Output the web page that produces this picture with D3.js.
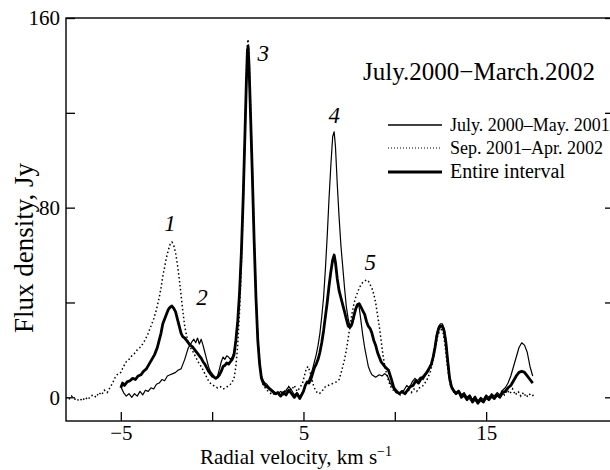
<!DOCTYPE html>
<html>
<head>
<meta charset="utf-8">
<script src="https://cdn.jsdelivr.net/npm/d3@7"></script>
<style>
  html, body { margin: 0; padding: 0; background: #fff; }
  svg { display: block; }
</style>
</head>
<body>
<svg id="chart" width="610" height="470"></svg>
<script>
// ---------------- DATA ----------------
const title = "July.2000\u2212March.2002";
const xTicks = [-5, 0, 5, 10, 15];
const xTickLabels = ["\u22125", "", "5", "", "15"];
const yTicks = [0, 40, 80, 120, 160];
const yTickLabels = ["0", "", "80", "", "160"];
const seriesNames = ["July. 2000\u2013May. 2001", "Sep. 2001\u2013Apr. 2002", "Entire interval"];
const peakLabels = ["1", "2", "3", "4", "5"];
const peakLabelPos = [[-2.3, 70], [-0.55, 39], [2.8, 142], [6.68, 115.5], [8.65, 53.5]];

// [velocity km/s, flux Jy]
const julyMay2001 = [
[-5.0,4.5],[-4.85,2],[-4.7,0.5],[-4.55,1.5],[-4.4,0],[-4.25,1.5],[-4.1,0.5],[-3.95,2.5],[-3.8,1],[-3.65,3],
[-3.5,2.5],[-3.35,4],[-3.2,3.5],[-3.05,5.5],[-2.9,6],[-2.75,7.5],[-2.6,7],[-2.45,9],[-2.3,9.5],[-2.15,10],
[-2.0,10.5],[-1.85,11.5],[-1.7,12],[-1.6,14],[-1.5,16],[-1.4,18.5],[-1.3,21],[-1.2,22],[-1.1,23.5],[-1.0,24.5],
[-0.9,23],[-0.8,25],[-0.7,22.5],[-0.6,24.5],[-0.5,22],[-0.4,19],[-0.3,16],[-0.2,13],[-0.1,11],[0.0,10],
[0.1,9],[0.2,8],[0.3,9],[0.4,12],[0.5,15],[0.6,17],[0.7,16],[0.8,17.5],[0.9,17],[1.0,16],
[1.1,17],[1.2,19],[1.3,25],[1.4,33],[1.5,45],[1.6,62],[1.7,85],[1.8,112],[1.87,132],[1.93,145],
[1.97,146],[2.02,138],[2.1,118],[2.2,92],[2.3,65],[2.4,42],[2.5,25],[2.6,15],[2.7,9],[2.8,7],
[2.9,6],[3.0,5.5],[3.15,4],[3.3,3],[3.45,2],[3.6,1.5],[3.75,2.5],[3.9,1],[4.05,3],[4.2,4.5],
[4.35,3],[4.5,1],[4.65,2],[4.8,0],[4.9,1.5],[5.0,3],[5.1,5],[5.2,6],[5.3,7.5],[5.4,9.5],
[5.5,12],[5.6,15],[5.7,18],[5.8,22],[5.9,27],[6.0,34],[6.1,42],[6.2,54],[6.3,68],[6.4,84],
[6.5,98],[6.6,110],[6.68,112],[6.75,106],[6.85,90],[6.95,76],[7.05,64],[7.15,55],[7.25,46],[7.35,38],
[7.45,33],[7.55,30],[7.65,30],[7.75,33],[7.85,37],[7.95,39.5],[8.05,38],[8.15,32],[8.25,26],[8.35,21],
[8.45,17],[8.55,13],[8.65,11],[8.75,9.5],[8.85,9],[8.95,8.5],[9.05,9],[9.15,9.5],[9.3,9],[9.45,10],
[9.6,9],[9.75,6],[9.9,4],[10.05,2],[10.2,1.5],[10.35,2],[10.5,3],[10.65,5],[10.8,4],[10.95,6.5],
[11.1,8],[11.25,7],[11.4,8.5],[11.55,7.5],[11.7,9.5],[11.85,11],[12.0,14],[12.1,17],[12.2,22],[12.3,27],
[12.4,30],[12.5,31],[12.6,31],[12.7,29],[12.8,24],[12.9,16],[13.0,9],[13.1,5],[13.2,3.5],[13.35,2],
[13.5,3],[13.65,1],[13.8,2],[13.95,0],[14.1,1],[14.25,-1],[14.4,0.5],[14.55,-1.5],[14.7,0],[14.85,-1],
[15.0,1],[15.15,0],[15.3,1.5],[15.45,0.5],[15.6,2],[15.75,1],[15.9,3],[16.05,4],[16.2,6],[16.35,9],
[16.5,13],[16.65,17],[16.8,21],[16.95,23],[17.1,22],[17.25,19],[17.4,13],[17.55,9]
];

const sep2001Apr2002 = [
[-8.0,0],[-7.85,-1],[-7.7,0.5],[-7.55,-0.5],[-7.4,-1.5],[-7.25,-0.5],[-7.1,-1.5],[-6.95,0],[-6.8,-1],[-6.65,0.5],
[-6.5,1],[-6.35,0],[-6.2,2],[-6.05,1],[-5.9,3],[-5.75,2],[-5.6,4],[-5.45,6],[-5.3,8.5],[-5.15,10],
[-5.0,10.5],[-4.85,13],[-4.7,15],[-4.55,16],[-4.4,17.5],[-4.25,18.5],[-4.1,20],[-3.95,21],[-3.8,22.5],[-3.65,24.5],
[-3.5,27],[-3.35,30],[-3.2,33],[-3.05,37],[-2.9,42],[-2.8,46],[-2.7,51],[-2.6,55],[-2.5,59],[-2.4,62],
[-2.3,64.5],[-2.2,65.5],[-2.1,64],[-2.0,61],[-1.9,56],[-1.8,50],[-1.7,43],[-1.6,36],[-1.5,30],[-1.4,26],
[-1.3,23],[-1.2,21],[-1.1,20],[-1.0,18.5],[-0.9,17],[-0.8,15.5],[-0.7,14],[-0.6,13],[-0.5,11.5],[-0.4,10],
[-0.3,8.5],[-0.2,7],[-0.1,6],[0.0,5.5],[0.15,4.5],[0.3,4],[0.45,4.5],[0.6,3.5],[0.75,4],[0.9,5],
[1.0,5.5],[1.1,6.5],[1.2,8],[1.3,13],[1.4,22],[1.5,36],[1.6,56],[1.7,82],[1.8,112],[1.87,135],
[1.93,149],[1.97,151],[2.02,144],[2.1,124],[2.2,96],[2.3,68],[2.4,43],[2.5,25],[2.6,14],[2.7,8],
[2.8,5],[2.9,4],[3.0,3],[3.15,2],[3.3,1],[3.45,2],[3.6,0.5],[3.75,1.5],[3.9,3],[4.05,2],
[4.2,4.5],[4.35,3],[4.5,5],[4.65,2.5],[4.8,4],[4.95,6],[5.05,9],[5.15,12],[5.25,13],[5.35,11],
[5.45,8],[5.55,5],[5.65,3],[5.75,2],[5.85,1.5],[5.95,2],[6.05,3],[6.2,4.5],[6.35,5],[6.5,5.5],
[6.65,6],[6.8,6.5],[6.95,7.5],[7.05,10],[7.15,13],[7.25,16],[7.35,20],[7.45,25],[7.55,30],[7.65,35],
[7.75,39],[7.85,42],[7.95,44],[8.05,46],[8.15,47.5],[8.25,48.5],[8.35,49],[8.45,49.5],[8.55,49],[8.65,47.5],
[8.75,46],[8.85,43.5],[8.95,40],[9.05,35],[9.15,30],[9.25,24],[9.35,18],[9.45,13],[9.55,10],[9.65,7],
[9.75,5],[9.85,3.5],[10.0,2.5],[10.15,2],[10.3,1],[10.45,2],[10.6,1.5],[10.75,3],[10.9,2],[11.05,3.5],
[11.2,2.5],[11.35,4],[11.5,4.5],[11.65,6],[11.8,8],[11.95,11],[12.05,14],[12.15,18],[12.25,22],[12.35,26],
[12.45,28],[12.55,28.5],[12.65,27],[12.75,22],[12.85,15],[12.95,9],[13.05,5],[13.15,3],[13.3,1.5],[13.45,3],
[13.6,0.5],[13.75,2],[13.9,-1],[14.05,0],[14.2,-2],[14.35,0],[14.5,-2.5],[14.65,-1],[14.8,-2],[14.95,0.5],
[15.1,-1],[15.25,1],[15.4,-0.5],[15.55,1.5],[15.7,0],[15.85,2.5],[16.0,1],[16.15,3],[16.3,1.5],[16.45,3.5],
[16.6,1],[16.75,2.5],[16.9,0.5],[17.05,2],[17.2,0],[17.35,1.5],[17.5,0.5],[17.6,1]
];

const entireInterval = [
[-5.0,4],[-4.9,6],[-4.8,5],[-4.65,6.5],[-4.5,7],[-4.35,8],[-4.2,7.5],[-4.05,9],[-3.9,9.5],[-3.75,11],
[-3.6,12],[-3.45,14],[-3.3,16],[-3.15,18],[-3.0,21],[-2.9,24],[-2.8,27],[-2.7,31],[-2.6,33],[-2.5,35],
[-2.4,37],[-2.3,38],[-2.2,38.5],[-2.1,37.5],[-2.0,36],[-1.9,33],[-1.8,30],[-1.7,27],[-1.6,25.5],[-1.5,25],
[-1.4,24],[-1.3,23],[-1.2,22],[-1.1,21.5],[-1.0,20.5],[-0.9,19.5],[-0.8,18.5],[-0.7,17.5],[-0.6,16.5],[-0.5,15],
[-0.4,14],[-0.3,12.5],[-0.2,11],[-0.1,10],[0.0,9],[0.1,8.5],[0.2,8],[0.3,8.5],[0.4,9.5],[0.5,11],
[0.6,13],[0.7,13.5],[0.8,14.5],[0.9,14],[1.0,15],[1.1,16],[1.2,18],[1.3,24],[1.4,32],[1.5,44],
[1.6,61],[1.7,84],[1.8,112],[1.87,132],[1.93,146],[1.97,148],[2.02,140],[2.1,120],[2.2,94],[2.3,66],
[2.4,42],[2.5,24],[2.6,14],[2.7,8],[2.8,6],[2.9,5],[3.0,4.5],[3.15,3.5],[3.3,2.5],[3.45,1.5],
[3.6,2],[3.75,0.5],[3.9,2],[4.05,1],[4.2,3],[4.35,1.5],[4.5,0],[4.65,1.5],[4.8,-0.5],[4.9,1],
[5.0,2.5],[5.1,5],[5.2,6.5],[5.3,6],[5.4,7.5],[5.5,10],[5.6,12.5],[5.7,14],[5.8,16],[5.9,19],
[6.0,23],[6.1,28],[6.2,34],[6.3,40],[6.4,47],[6.5,53],[6.6,58],[6.68,60],[6.75,57],[6.85,50],
[6.95,45],[7.05,42],[7.15,39],[7.25,36],[7.35,33],[7.45,30],[7.55,29.5],[7.65,31],[7.75,34],[7.85,37],
[7.95,39],[8.05,39.5],[8.15,38],[8.25,36.5],[8.35,35],[8.45,32],[8.55,30],[8.65,29],[8.75,27],[8.85,24],
[8.95,22],[9.05,19],[9.15,17],[9.25,15],[9.35,14],[9.5,12.5],[9.65,11.5],[9.8,8],[9.95,4],[10.1,2.5],
[10.25,1.5],[10.4,2.5],[10.55,1.5],[10.7,3],[10.85,4.5],[11.0,5],[11.15,7],[11.3,6],[11.45,8],[11.6,9],
[11.75,10.5],[11.9,12.5],[12.0,14],[12.1,17],[12.2,21],[12.3,26],[12.4,29],[12.5,30],[12.6,30],[12.7,28],
[12.8,23],[12.9,15],[13.0,8],[13.1,4.5],[13.2,3],[13.35,1.5],[13.5,2.5],[13.65,0],[13.8,1],[13.95,-1],
[14.1,0.5],[14.25,-2],[14.4,-0.5],[14.55,-2.5],[14.7,-1],[14.85,-2],[15.0,0],[15.15,-1],[15.3,0.5],[15.45,-0.5],
[15.6,1],[15.75,0],[15.9,2],[16.05,2.5],[16.2,4],[16.35,5],[16.5,7],[16.65,9],[16.8,10.5],[16.95,11],
[17.1,10.5],[17.25,9],[17.4,7.5],[17.55,6]
];

// ---------------- CHART ----------------
const FONT = "Liberation Serif, DejaVu Serif, Times New Roman, Times, serif";
const svg = d3.select("#chart");
const L = 66, R = 614, T = 18, B = 421;
const x = d3.scaleLinear().domain([-8, 22]).range([L, R]);
const y = d3.scaleLinear().domain([-10, 160]).range([B, T]);

svg.append("defs").append("clipPath").attr("id", "plotclip")
  .append("rect").attr("x", L).attr("y", T).attr("width", R - L).attr("height", B - T);

const line = d3.line().x(d => x(d[0])).y(d => y(d[1])).curve(d3.curveLinear);

const g = svg.append("g").attr("clip-path", "url(#plotclip)");
g.append("path").datum(sep2001Apr2002).attr("d", line)
  .attr("fill", "none").attr("stroke", "#000").attr("stroke-width", 1.5)
  .attr("stroke-dasharray", "1.5 2.5");
g.append("path").datum(julyMay2001).attr("d", line)
  .attr("fill", "none").attr("stroke", "#000").attr("stroke-width", 1.2)
  .attr("stroke-linejoin", "round");
g.append("path").datum(entireInterval).attr("d", line)
  .attr("fill", "none").attr("stroke", "#000").attr("stroke-width", 2.8)
  .attr("stroke-linejoin", "round");

function styleText(sel, size) {
  sel.attr("font-family", FONT).attr("font-size", size).attr("fill", "#000");
}

// Axes (ticks inward)
const tickLen = 9;
const bottomAxis = d3.axisBottom(x).tickValues(xTicks).tickSize(-tickLen).tickPadding(4)
  .tickFormat((d, i) => xTickLabels[i]);
const gx = svg.append("g").attr("transform", `translate(0,${B})`).call(bottomAxis);
gx.attr("font-family", FONT).attr("font-size", 21);
gx.select(".domain").remove();
gx.selectAll("line").attr("stroke", "#000").attr("stroke-width", 1.3);
styleText(gx.selectAll("text"), 21);

const leftAxis = d3.axisLeft(y).tickValues(yTicks).tickSize(-tickLen).tickPadding(6)
  .tickFormat((d, i) => yTickLabels[i]);
const gy = svg.append("g").attr("transform", `translate(${L},0)`).call(leftAxis);
gy.attr("font-family", FONT).attr("font-size", 21);
gy.select(".domain").remove();
gy.selectAll("line").attr("stroke", "#000").attr("stroke-width", 1.3);
styleText(gy.selectAll("text"), 21);

const rightAxis = d3.axisRight(y).tickValues(yTicks).tickSize(-tickLen).tickFormat("");
const gr = svg.append("g").attr("transform", `translate(${R},0)`).call(rightAxis);
gr.select(".domain").remove();
gr.selectAll("line").attr("stroke", "#000").attr("stroke-width", 1.3);

// Frame
svg.append("rect").attr("x", L).attr("y", T).attr("width", R - L).attr("height", B - T)
  .attr("fill", "none").attr("stroke", "#000").attr("stroke-width", 1.4);

// Axis titles
const xl = svg.append("text").attr("x", 296).attr("y", 464).attr("text-anchor", "middle");
styleText(xl, 21);
xl.append("tspan").text("Radial velocity, km s");
xl.append("tspan").attr("dy", -8).attr("font-size", 14).text("\u22121");

const yl = svg.append("text").attr("transform", "translate(33,248) rotate(-90)")
  .attr("text-anchor", "middle").text("Flux density, Jy");
styleText(yl, 27);

// Title
const tt = svg.append("text").attr("x", 363).attr("y", 80).text(title);
styleText(tt, 25);

// Peak labels
const pk = svg.selectAll(".peak").data(peakLabels).enter().append("text")
  .attr("class", "peak")
  .attr("x", (d, i) => x(peakLabelPos[i][0]))
  .attr("y", (d, i) => y(peakLabelPos[i][1]))
  .attr("text-anchor", "middle")
  .text(d => d);
styleText(pk, 23);
pk.attr("font-style", "italic");

// Legend
const legY = [125, 148, 172];
const legStyles = [
  {w: 1.3, dash: null},
  {w: 1.2, dash: "1 2"},
  {w: 3, dash: null}
];
const legSizes = [18, 18, 20];
seriesNames.forEach((name, i) => {
  const ln = svg.append("line").attr("x1", 388).attr("x2", 442)
    .attr("y1", legY[i]).attr("y2", legY[i])
    .attr("stroke", "#000").attr("stroke-width", legStyles[i].w);
  if (legStyles[i].dash) ln.attr("stroke-dasharray", legStyles[i].dash);
  const t = svg.append("text").attr("x", 450).attr("y", legY[i] + 6).text(name);
  styleText(t, legSizes[i]);
});
</script>
</body>
</html>
